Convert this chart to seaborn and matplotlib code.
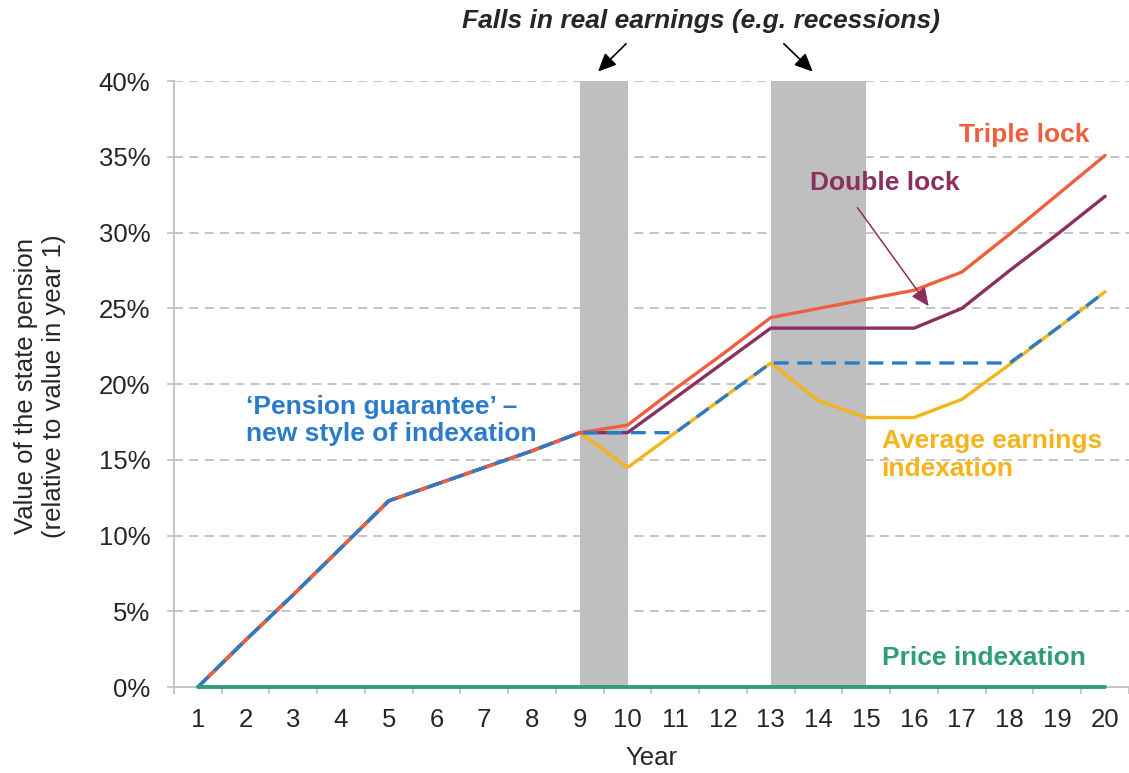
import numpy as np
import pandas as pd
import matplotlib
matplotlib.use('Agg')
from matplotlib import pyplot as plt
from matplotlib.ticker import FuncFormatter
import seaborn as sns

# Years and indexation scenarios (% above value in year 1)
years = list(range(1, 21))
triple_lock = [0, 3.1, 6.1, 9.2, 12.3, 13.4, 14.5, 15.6, 16.8, 17.3,
               19.7, 22.0, 24.4, 25.0, 25.6, 26.2, 27.4, 29.9, 32.5, 35.1]
double_lock = [0, 3.1, 6.1, 9.2, 12.3, 13.4, 14.5, 15.6, 16.8, 16.8,
               19.1, 21.4, 23.7, 23.7, 23.7, 23.7, 25.0, 27.5, 29.9, 32.4]
average_earnings = [0, 3.1, 6.1, 9.2, 12.3, 13.4, 14.5, 15.6, 16.8, 14.5,
                    16.8, 19.1, 21.4, 18.9, 17.8, 17.8, 19.0, 21.3, 23.7, 26.1]
pension_guarantee = [0, 3.1, 6.1, 9.2, 12.3, 13.4, 14.5, 15.6, 16.8, 16.8,
                     16.8, 19.1, 21.4, 21.4, 21.4, 21.4, 21.4, 21.4, 23.7, 26.1]
price_indexation = [0] * 20

# periods with falls in real earnings (start year, end year)
recession_periods = [(9, 10), (13, 15)]

colors = {
    'Average earnings indexation': '#F4B41A',
    'Double lock': '#8B2F5F',
    'Triple lock': '#EE5F3E',
    'Pension guarantee': '#2B7BCB',
    'Price indexation': '#2E9E76',
}

df = pd.DataFrame({
    'Year': years,
    'Average earnings indexation': average_earnings,
    'Double lock': double_lock,
    'Triple lock': triple_lock,
    'Pension guarantee': pension_guarantee,
    'Price indexation': price_indexation,
})

sns.set_style('white')
plt.rcParams['font.family'] = ['Liberation Sans', 'DejaVu Sans']

fig = plt.figure(figsize=(11.29, 7.73), dpi=100)
ax = fig.add_axes([0.154, 0.111, 0.846, 0.784])

for start, end in recession_periods:
    ax.axvspan(start, end, color='#BFBFBF', lw=0, zorder=1)

for val in range(5, 45, 5):
    ax.axhline(val, color='#BFBFBF', lw=1.3, dashes=(5, 3.5), zorder=0)

# draw order matters: shared segments show orange + blue dashes
for name in ['Average earnings indexation', 'Double lock', 'Triple lock']:
    sns.lineplot(data=df, x='Year', y=name, color=colors[name], lw=2.4,
                 ax=ax, legend=False, zorder=3)
sns.lineplot(data=df, x='Year', y='Pension guarantee', color=colors['Pension guarantee'],
             lw=2.4, ax=ax, legend=False, zorder=4)
ax.lines[-1].set_dashes((4.5, 2.6))
sns.lineplot(data=df, x='Year', y='Price indexation', color=colors['Price indexation'],
             lw=2.8, ax=ax, legend=False, zorder=5)
ax.lines[-1].set_clip_on(False)

ax.set_xlim(0.5, 20.5)
ax.set_ylim(0, 40)
ax.set_xticks(years)
ax.set_xticks(np.arange(0.5, 20.6, 1), minor=True)
ax.tick_params(axis='x', which='major', length=0, labelsize=18.5, pad=15)
ax.tick_params(axis='x', which='minor', length=5, color='#BFBFBF', width=1.2, direction='out')
ax.set_yticks(range(0, 45, 5))
ax.yaxis.set_major_formatter(FuncFormatter(lambda v, p: f'{v:.0f}%'))
ax.tick_params(axis='y', length=5, color='#BFBFBF', width=1.2, labelsize=18.5, pad=12)
ax.xaxis.set_ticks_position('bottom')
ax.yaxis.set_ticks_position('left')

for s in ['top', 'right']:
    ax.spines[s].set_visible(False)
for s in ['left', 'bottom']:
    ax.spines[s].set_color('#BFBFBF')
    ax.spines[s].set_linewidth(1.3)

ax.set_xlabel('Year', fontsize=18.5, labelpad=10)
ax.set_ylabel('')
fig.text(40 / 1129, 1 - 386 / 773, 'Value of the state pension\n(relative to value in year 1)',
         fontsize=18.5, rotation=90, ha='center', va='center')

# series labels
label_kw = dict(fontsize=19, fontweight='bold', va='center')
ax.text(18.3, 36.45, 'Triple lock', color=colors['Triple lock'], ha='center', **label_kw)
ax.text(15.38, 33.3, 'Double lock', color=colors['Double lock'], ha='center', **label_kw)
ax.annotate('', xy=(16.34, 25.0), xytext=(14.78, 31.8),
            arrowprops=dict(arrowstyle='-|>,head_length=1.1,head_width=0.5',
                            color=colors['Double lock'], lw=1.1))
ax.text(2.0, 17.6, '\u2018Pension guarantee\u2019 \u2013\nnew style of indexation',
        color=colors['Pension guarantee'], ha='left', **label_kw)
ax.text(15.32, 15.3, 'Average earnings\nindexation', color=colors['Average earnings indexation'],
        ha='left', **label_kw)
ax.text(15.32, 1.9, 'Price indexation', color=colors['Price indexation'], ha='left', **label_kw)

# recession header
ax.text(11.54, 44.0, 'Falls in real earnings (e.g. recessions)', fontsize=19,
        fontweight='bold', fontstyle='italic', ha='center', va='center', clip_on=False)
ax.annotate('', xy=(9.34, 40.5), xytext=(10.01, 42.6), annotation_clip=False,
            arrowprops=dict(arrowstyle='-|>,head_length=1.1,head_width=0.5', color='black', lw=1.2))
ax.annotate('', xy=(13.92, 40.5), xytext=(13.23, 42.6), annotation_clip=False,
            arrowprops=dict(arrowstyle='-|>,head_length=1.1,head_width=0.5', color='black', lw=1.2))

plt.savefig('out.png', dpi=100)
plt.close()
